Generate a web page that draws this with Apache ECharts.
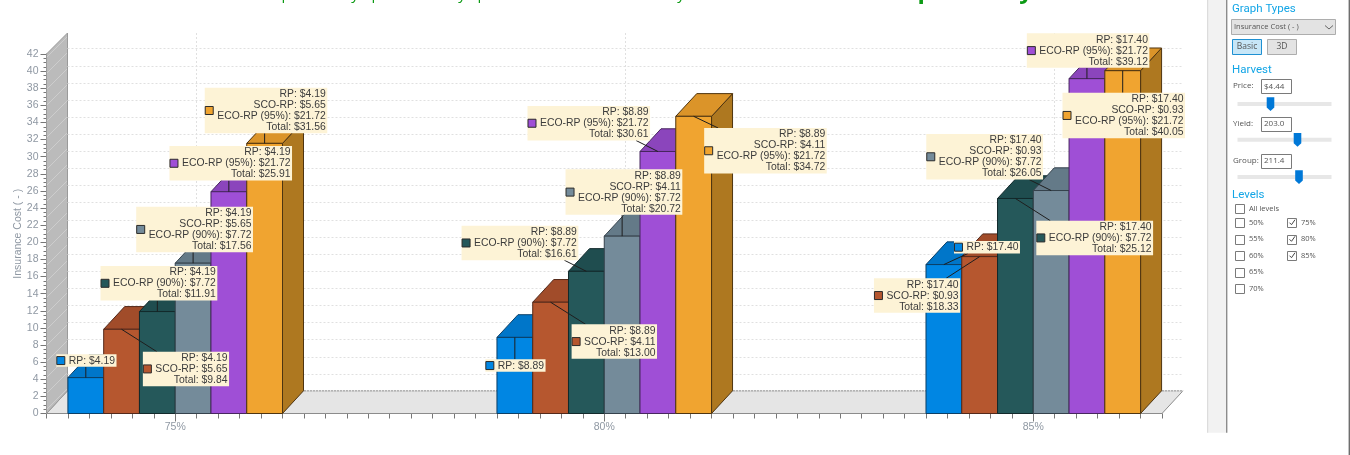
<!DOCTYPE html>
<html>
<head>
<meta charset="utf-8">
<title>Insurance Cost</title>
<style>
  html, body { margin: 0; padding: 0; background: #ffffff; }
  #chart { width: 1350px; height: 455px; }
</style>
<script src="https://cdn.jsdelivr.net/npm/echarts@6/dist/echarts.min.js"></script>
</head>
<body>
<div id="chart"></div>
<script>
// Coverage levels and the premium components behind each column
const coverageLevels = [75, 80, 85];
const rpCost = [4.19, 8.89, 17.40];
const scoCost = [5.65, 4.11, 0.93];
const eco90Cost = 7.72;
const eco95Cost = 21.72;

// Column totals per coverage level
const totalRp = [4.19, 8.89, 17.40];
const totalRpSco = [9.84, 13.00, 18.33];
const totalRpEco90 = [11.91, 16.61, 25.12];
const totalRpScoEco90 = [17.56, 20.72, 26.05];
const totalRpEco95 = [25.91, 30.61, 39.12];
const totalRpScoEco95 = [31.56, 34.72, 40.05];

const yTickValues = [0, 2, 4, 6, 8, 10, 12, 14, 16, 18, 20, 22, 24, 26, 28, 30, 32, 34, 36, 38, 40];

// Column palette: front, top, outline
const palettes = [
  ['#0086E3', '#0076C9', '#0B3F66'],
  ['#B6572F', '#A14C2A', '#54291A'],
  ['#25585A', '#1F4D4F', '#12292B'],
  ['#748B9A', '#647A88', '#35424C'],
  ['#9F4FD6', '#8B45BC', '#47265F'],
  ['#F0A430', '#DB9429', '#4E3410']
];
const sideColor = '#AE7820';

// Callout placement relative to each column's front top centre: [left, top]
const calloutOffsets = [
  [[-29.5, -23.3], [-29.5, 21.9], [10.1, -23.6]],
  [[21.3, 22.4], [21, 22.1], [-105.7, 21.7]],
  [[-56.8, -45.5], [-124.8, -45.6], [20.9, 22.2]],
  [[-56.9, -56.5], [-56.6, -66.8], [-124.9, -56.5]],
  [[-59.4, -45.7], [-130.4, -45.5], [-60.1, -45.3]],
  [[-59.9, -55.6], [10.5, 11.7], [-60.2, 22]]
];

const money = v => '$' + v.toFixed(2);

// Text lines of one callout
function calloutLines(kind, g) {
  const rp = 'RP: ' + money(rpCost[g]);
  const sco = 'SCO-RP: ' + money(scoCost[g]);
  const e90 = 'ECO-RP (90%): ' + money(eco90Cost);
  const e95 = 'ECO-RP (95%): ' + money(eco95Cost);
  const tot = v => 'Total: ' + money(v);
  switch (kind) {
    case 0: return [rp];
    case 1: return [rp, sco, tot(totalRpSco[g])];
    case 2: return [rp, e90, tot(totalRpEco90[g])];
    case 3: return [rp, sco, e90, tot(totalRpScoEco90[g])];
    case 4: return [rp, e95, tot(totalRpEco95[g])];
    default: return [rp, sco, e95, tot(totalRpScoEco95[g])];
  }
}

const seriesTotals = [totalRp, totalRpSco, totalRpEco90, totalRpScoEco90, totalRpEco95, totalRpScoEco95];
const seriesNames = ['RP', 'RP + SCO-RP', 'RP + ECO-RP (90%)', 'RP + SCO-RP + ECO-RP (90%)', 'RP + ECO-RP (95%)', 'RP + SCO-RP + ECO-RP (95%)'];

// Projection of the pseudo-3D box and column spacing in axis units
const depthX = 21;
const depthY = 22.7;
const wallTopDepthY = 21;
const barSpan = 0.4168;
const xMin = 73.5, xMax = 86.5;

const labelFont = '10.4px "Liberation Sans", Arial, sans-serif';
const measureCtx = document.createElement('canvas').getContext('2d');
measureCtx.font = labelFont;

// Diagonal hatch for the left wall
function wallPattern() {
  const c = document.createElement('canvas');
  c.width = 16; c.height = 16;
  const ctx = c.getContext('2d');
  ctx.fillStyle = '#BBBBBB';
  ctx.fillRect(0, 0, 16, 16);
  ctx.strokeStyle = 'rgba(235,235,235,0.55)';
  ctx.lineWidth = 0.7;
  ctx.beginPath();
  ctx.moveTo(-2, 10); ctx.lineTo(10, -2);
  ctx.moveTo(6, 18); ctx.lineTo(18, 6);
  ctx.stroke();
  return c;
}
const hatch = wallPattern();

// Floor, hatched wall and back-plane grid
function renderBackdrop(params, api) {
  const [x0, y0] = api.coord([xMin, 0]);
  const [x1] = api.coord([xMax, 0]);
  const yTop = api.coord([xMin, 42])[1];
  const kids = [];
  const backBottom = y0 - depthY;
  kids.push({
    type: 'polygon',
    shape: { points: [[x0, y0], [x0 + depthX, backBottom], [x1 + depthX, backBottom], [x1, y0]] },
    style: { fill: '#E5E5E5', stroke: '#8C8C8C', lineWidth: 1 }
  });
  kids.push({
    type: 'line',
    shape: { x1: x0 + depthX, y1: backBottom, x2: x1 + depthX, y2: backBottom },
    style: { stroke: '#FFFFFF', lineWidth: 1 }
  });
  kids.push({
    type: 'line',
    shape: { x1: x0 + depthX, y1: backBottom, x2: x1 + depthX, y2: backBottom },
    style: { stroke: '#555555', lineWidth: 1, lineDash: [1, 2] }
  });
  kids.push({
    type: 'polygon',
    shape: { points: [[x0, y0], [x0, yTop], [x0 + depthX, yTop - wallTopDepthY], [x0 + depthX, backBottom]] },
    style: { fill: { image: hatch, repeat: 'repeat' }, stroke: '#9A9A9A', lineWidth: 1 }
  });
  yTickValues.forEach(v => {
    if (v === 0) return;
    const y = Math.round(api.coord([xMin, v])[1] - depthY) + 0.5;
    kids.push({
      type: 'line',
      shape: { x1: x0 + depthX, y1: y, x2: x1 + depthX, y2: y },
      style: { stroke: '#E0E0E0', lineWidth: 1, lineDash: [2, 2] }
    });
  });
  coverageLevels.forEach(l => {
    const x = Math.round(api.coord([l, 0])[0] + depthX) + 0.5;
    kids.push({
      type: 'line',
      shape: { x1: x, y1: yTop - wallTopDepthY, x2: x, y2: backBottom },
      style: { stroke: '#E0E0E0', lineWidth: 1, lineDash: [2, 2] }
    });
  });
  return { type: 'group', children: kids };
}

// One extruded column: side, top, then front
function renderBar(kind, params, api) {
  const x = api.value(0), v = api.value(1);
  const pal = palettes[kind];
  const [cx, yTop] = api.coord([x, v]);
  const yBase = api.coord([x, 0])[1];
  const half = api.size([barSpan, 0])[0] / 2;
  const l = cx - half, r = cx + half;
  return {
    type: 'group',
    children: [
      {
        type: 'polygon',
        shape: { points: [[r, yBase], [r, yTop], [r + depthX, yTop - depthY], [r + depthX, yBase - depthY]] },
        style: { fill: sideColor, stroke: pal[2], lineWidth: 1 }
      },
      {
        type: 'polygon',
        shape: { points: [[l, yTop], [l + depthX, yTop - depthY], [r + depthX, yTop - depthY], [r, yTop]] },
        style: { fill: pal[1], stroke: pal[2], lineWidth: 1 }
      },
      {
        type: 'rect',
        shape: { x: l, y: yTop, width: r - l, height: yBase - yTop },
        style: { fill: pal[0], stroke: pal[2], lineWidth: 1 }
      }
    ]
  };
}

// Callout box with its colour chip, right-aligned text and leader line
function renderCallout(params, api) {
  const x = api.value(0), v = api.value(1), kind = api.value(2), g = api.value(3);
  const [ax, ay] = api.coord([x, v]);
  const lines = calloutLines(kind, g);
  const off = calloutOffsets[kind][g];
  const textW = Math.max(...lines.map(t => measureCtx.measureText(t).width));
  const w = 12.5 + textW + 1.5;
  const h = lines.length * 11 + 1.5;
  const left = ax + off[0], top = ay + off[1];
  const right = left + w, bottom = top + h;
  const ex = Math.min(Math.max(ax, left + 14), right - 14);
  const ey = ay < top ? top : bottom;
  const pal = palettes[kind];
  return {
    type: 'group',
    children: [
      {
        type: 'line',
        shape: { x1: ax, y1: ay, x2: ex, y2: ey },
        style: { stroke: '#1E1E1E', lineWidth: 1 }
      },
      {
        type: 'rect',
        shape: { x: left, y: top, width: w, height: h },
        style: { fill: '#FDF3D6' }
      },
      {
        type: 'rect',
        shape: { x: left + 0.5, y: top + h / 2 - 4, width: 8, height: 8 },
        style: { fill: pal[0], stroke: '#2B2B2B', lineWidth: 1 }
      },
      {
        type: 'text',
        style: {
          text: lines.join('\n'),
          x: right - 1.5,
          y: top + 1,
          align: 'right',
          verticalAlign: 'top',
          font: labelFont,
          lineHeight: 11,
          fill: '#3C3C3C'
        }
      }
    ]
  };
}

const barSeries = seriesTotals.map((totals, kind) => ({
  name: seriesNames[kind],
  type: 'custom',
  coordinateSystem: 'cartesian2d',
  xAxisIndex: 0,
  yAxisIndex: 0,
  z: 3,
  clip: false,
  silent: true,
  encode: { x: 0, y: 1 },
  data: totals.map((t, g) => [coverageLevels[g] + (kind - 2.5) * barSpan, t]),
  renderItem: (p, api) => renderBar(kind, p, api)
}));

const calloutData = [];
seriesTotals.forEach((totals, kind) => totals.forEach((t, g) => {
  calloutData.push([coverageLevels[g] + (kind - 2.5) * barSpan, t, kind, g]);
}));

// ---- Settings panel beside the plot ----
const panelFont = '"Open Sans", sans-serif';
const headingFont = 'Roboto, sans-serif';
const headingBlue = '#12A5E6';
const panelText = '#555555';
const thumbBlue = '#0078D7';

const panelHeadings = [['Graph Types', 9], ['Harvest', 70.5], ['Levels', 195]];
const harvestFields = [
  ['Price:', '$4.44', 79.3, 102, 1270.5],
  ['Yield:', '203.0', 116.7, 137.7, 1297.5],
  ['Group:', '211.4', 154, 175, 1299]
];
const levelRows = [['All levels', 208.7], ['50%', 222.7], ['55%', 239.3], ['60%', 255.7], ['65%', 272], ['70%', 288.7]];
const checkedLevels = [['75%', 222.7], ['80%', 239.3], ['85%', 255.7]];

function panelGraphics() {
  const els = [];
  const rect = (x, y, w, h, fill, stroke) => els.push({
    type: 'rect', shape: { x, y, width: w, height: h },
    style: { fill, stroke: stroke || null, lineWidth: stroke ? 1 : 0 }
  });
  const label = (text, x, y, size, fill, align, family) => els.push({
    type: 'text', x, y,
    style: { text, font: size + 'px ' + (family || panelFont), fill, align: align || 'left', verticalAlign: 'middle' }
  });
  const checkbox = (x, y, on) => {
    rect(x + 0.5, Math.round(y - 4.5) + 0.5, 9, 9, '#FFFFFF', '#7A7A7A');
    if (on) {
      els.push({
        type: 'polyline',
        shape: { points: [[x + 2.5, y], [x + 4.5, y + 2], [x + 8, y - 3]] },
        style: { stroke: '#444444', lineWidth: 1, fill: null }
      });
    }
  };

  rect(1207, 0, 20, 432.7, '#F2F2F2');
  rect(1207, 0, 1.2, 432.7, '#DCDCDC');
  rect(1226, 0, 1.4, 432.7, '#8C8C8C');
  rect(1348.6, 0, 1.4, 455, '#6E6E6E');

  panelHeadings.forEach(([t, y]) => label(t, 1232, y, 11.5, headingBlue, 'left', headingFont));
  // The panel scrolls under the window edge, cutting the first heading
  rect(1228, 0, 120, 4, '#FFFFFF');

  rect(1231.5, 19.5, 104, 15, '#E3E3E3', '#ADADAD');
  label('Insurance Cost ( - )', 1234, 27.2, 7.5, panelText);
  els.push({
    type: 'polyline',
    shape: { points: [[1325, 25.5], [1329, 29], [1333, 25.5]] },
    style: { stroke: '#666666', lineWidth: 1, fill: null }
  });

  rect(1232.5, 39.5, 29, 15, '#C7E6F7', '#1E90D2');
  label('Basic', 1247, 47, 8.5, panelText, 'center');
  rect(1267.5, 39.5, 29, 15, '#E3E3E3', '#ADADAD');
  label('3D', 1282, 47, 8.5, panelText, 'center');

  harvestFields.forEach(([name, value, boxY, trackY, thumbX]) => {
    label(name, 1233, boxY + 6.7, 8, panelText);
    rect(1261.5, Math.round(boxY) + 0.5, 30, 14, '#FFFFFF', '#7A7A7A');
    label(value, 1264, boxY + 7.2, 8, panelText);
    rect(1237.5, trackY, 94, 4, '#E7E7E7');
    els.push({
      type: 'polygon',
      shape: {
        points: [
          [thumbX - 3.8, trackY - 4.7], [thumbX + 3.8, trackY - 4.7],
          [thumbX + 3.8, trackY + 5.5], [thumbX, trackY + 9], [thumbX - 3.8, trackY + 5.5]
        ]
      },
      style: { fill: thumbBlue }
    });
  });

  levelRows.forEach(([t, y]) => {
    checkbox(1235, y, false);
    label(t, 1249, y, 7.5, panelText);
  });
  checkedLevels.forEach(([t, y]) => {
    checkbox(1287, y, true);
    label(t, 1301, y, 7.5, panelText);
  });

  return els;
}

// Lower parts of the green heading, which runs off the top of the page
const headingSmallLetters = [['p', 286], ['y', 355], ['p', 376], ['y', 462], ['p', 482], ['y', 681]];
const headingLargeLetters = [['p', 925], ['y', 1026]];

function headingGraphics() {
  const make = (t, x, font, bottom) => ({
    type: 'text', x, y: bottom,
    style: { text: t, font, fill: '#0C9A14', align: 'center', verticalAlign: 'bottom' }
  });
  return headingSmallLetters.map(([t, x]) => make(t, x, '15px ' + panelFont, 2.5))
    .concat(headingLargeLetters.map(([t, x]) => make(t, x, 'bold 24px ' + panelFont, 3.5)));
}

const axisGray = '#8F98A3';
const chart = echarts.init(document.getElementById('chart'), null, { renderer: 'canvas' });
const tickPositions = [];
for (let i = 0; i <= (xMax - xMin) * 4; i++) tickPositions.push(xMin + i * 0.25);

chart.setOption({
  animation: false,
  backgroundColor: '#FFFFFF',
  grid: { left: 46.5, right: 188, top: 54, bottom: 41.5, containLabel: false, outerBoundsMode: 'none' },
  xAxis: [
    {
      type: 'value', min: xMin, max: xMax, interval: 0.25, position: 'bottom',
      axisLine: { show: true, onZero: false, lineStyle: { color: '#777777', width: 1 } },
      axisTick: { show: true, length: 5, customValues: tickPositions, lineStyle: { color: '#777777' } },
      axisLabel: {
        show: true, customValues: coverageLevels, margin: 8,
        color: axisGray, fontSize: 10.5, fontFamily: '"Liberation Sans", Arial, sans-serif',
        formatter: v => v + '%'
      },
      splitLine: { show: false }
    },
    {
      type: 'value', min: xMin, max: xMax, interval: 0.25, position: 'bottom',
      axisLine: { show: false },
      axisTick: { show: true, length: 8, customValues: coverageLevels, lineStyle: { color: '#777777' } },
      axisLabel: { show: false },
      splitLine: { show: false }
    }
  ],
  yAxis: {
    type: 'value', min: 0, max: 42, interval: 2,
    name: 'Insurance Cost ( - )', nameLocation: 'middle', nameGap: 23, nameRotate: 90, nameMoveOverlap: false,
    nameTextStyle: { color: axisGray, fontSize: 10.5, fontFamily: '"Liberation Sans", Arial, sans-serif' },
    axisLine: { show: true, onZero: false, lineStyle: { color: '#777777', width: 1 } },
    axisTick: { show: true, length: 6, lineStyle: { color: '#777777' } },
    minorTick: { show: true, splitNumber: 4, length: 3, lineStyle: { color: '#777777' } },
    axisLabel: { color: axisGray, fontSize: 10.5, margin: 8, fontFamily: '"Liberation Sans", Arial, sans-serif' },
    splitLine: { show: false },
    minorSplitLine: { show: false }
  },
  graphic: { elements: panelGraphics().concat(headingGraphics()) },
  series: [
    {
      name: 'backdrop', type: 'custom', coordinateSystem: 'cartesian2d', z: 1, clip: false, silent: true,
      data: [[xMin, 0]], encode: { x: 0, y: 1 }, renderItem: renderBackdrop
    },
    ...barSeries,
    {
      name: 'callouts', type: 'custom', coordinateSystem: 'cartesian2d', z: 6, clip: false, silent: true,
      data: calloutData, encode: { x: 0, y: 1 }, renderItem: renderCallout
    }
  ]
});
</script>
</body>
</html>
